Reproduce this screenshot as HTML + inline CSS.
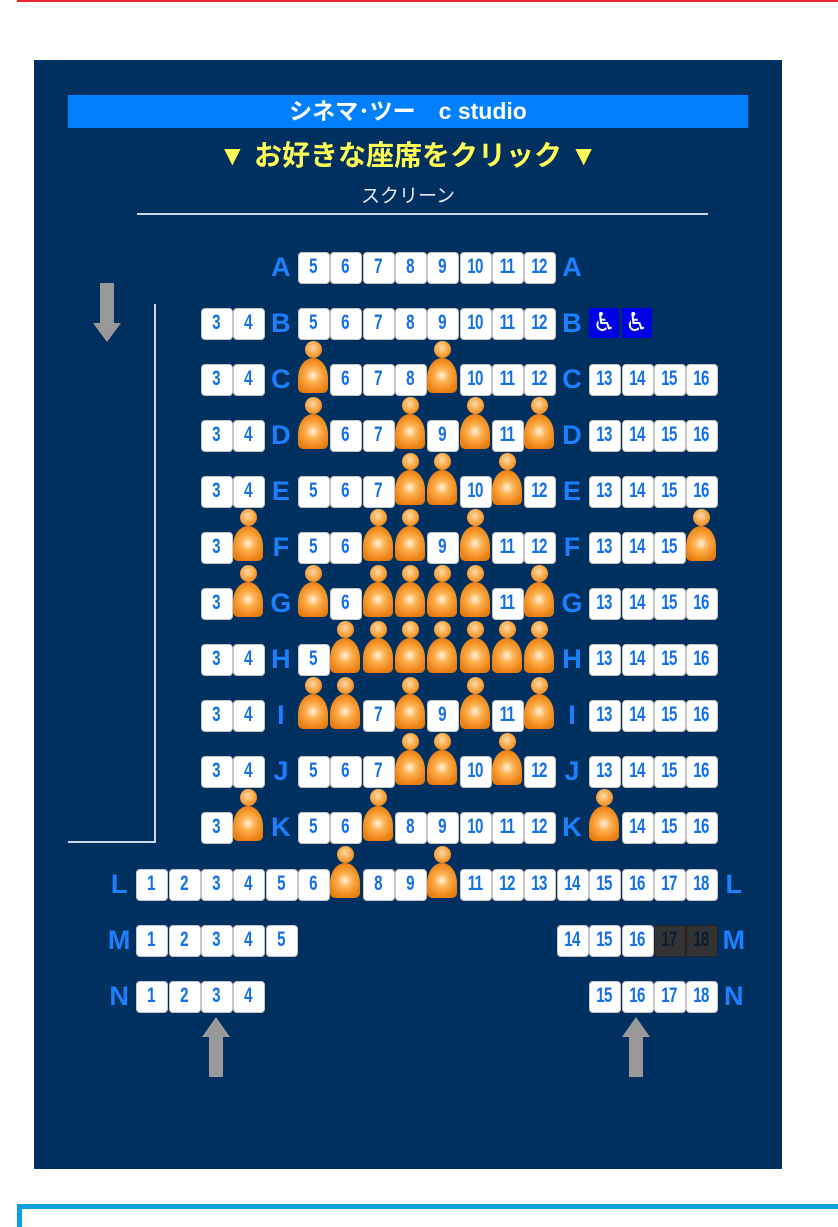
<!DOCTYPE html>
<html style="width:838px;height:1227px;overflow:hidden"><head><meta charset="utf-8"><style>
*{margin:0;padding:0;box-sizing:border-box}
body{width:838px;height:1227px;background:#fff;position:relative;overflow:hidden;font-family:"Liberation Sans","Noto Sans CJK JP",sans-serif}
.red{position:absolute;left:17px;top:0;width:821px;height:2px;background:#e8262b}
.panel{position:absolute;left:34px;top:60px;width:748px;height:1109px;background:#003060}
.cyan{position:absolute;left:17px;top:1204px;width:840px;height:40px;border:5px solid #0aa0e0}
.bar{position:absolute;left:68px;top:95px;width:680px;height:33px;background:#0080ff;color:#fff;font-weight:bold;font-size:23px;text-align:center;line-height:33px}
.yel{position:absolute;left:68px;top:137px;width:680px;text-align:center;color:#ffff55;font-size:28px;line-height:38px;font-weight:bold}
.scr{position:absolute;left:68px;top:184px;width:680px;text-align:center;color:#e6e8f0;font-size:19px;line-height:26px}
.sline{position:absolute;left:137px;top:213px;width:571px;height:2px;background:#cfd8ea}
.row{position:absolute;left:103px;display:flex;height:30px}
.row>*{width:32.35px;height:30px;flex:none;position:relative;display:block;text-decoration:none;font-style:normal}
.row b::before{content:"";position:absolute;left:1px;top:0;width:30px;height:30px;background:#fff;border-radius:4px;border:1px solid #c8c8c8}
.row b span,.row q span{position:absolute;left:1px;top:0;width:30px;line-height:30px;text-align:center;color:#1370e8;font-weight:bold;font-size:21px;letter-spacing:-1px;transform:scaleX(.72)}
.row q::before{content:"";position:absolute;left:1px;top:0;width:30px;height:30px;background:#333;border-radius:3px;border:1px solid #222}
.row q span{color:#0c1c30}
.row u{color:#1a80ff;font-weight:bold;font-size:27px;line-height:30px;text-align:center}
.row em::before{content:"♿";position:absolute;left:1px;top:0;width:30px;height:30px;background:#0000e6;color:#fff;font-size:26px;line-height:30px;text-align:center;font-family:"DejaVu Sans",sans-serif}
.row s::before{content:"";position:absolute;left:8px;top:-23px;width:17px;height:17px;border-radius:50%;background:radial-gradient(circle at 45% 40%,#ffd9a8,#f79a30 60%,#e07a10);z-index:1}
.row s::after{content:"";position:absolute;left:1px;top:-6px;width:30px;height:35px;border-radius:15px 15px 5px 5px/20px 20px 5px 5px;background:radial-gradient(circle at 50% 50%,#fff3e0 0,#ffb050 30%,#f08a1c 65%,#d86e08)}
.vl{position:absolute;left:154px;top:304px;width:2px;height:538px;background:#cfd8ea}
.hl{position:absolute;left:68px;top:841px;width:88px;height:2px;background:#cfd8ea}
.arr{position:absolute;width:28px;height:60px}
</style></head><body>
<div class="red"></div>
<div class="panel"></div>
<div class="cyan"></div>
<div class="bar">シネマ･ツー　c studio</div>
<div class="yel">▼ お好きな座席をクリック ▼</div>
<div class="scr">スクリーン</div>
<div class="sline"></div>
<div class="vl"></div><div class="hl"></div>
<svg class="arr" style="left:93px;top:283px" viewBox="0 0 28 60"><path d="M7 0H21V40H28L14 59L0 40H7Z" fill="#999"/></svg>
<svg class="arr" style="left:202px;top:1017px" viewBox="0 0 28 60"><path d="M7 60H21V20H28L14 0L0 20H7Z" fill="#999"/></svg>
<svg class="arr" style="left:622px;top:1017px" viewBox="0 0 28 60"><path d="M7 60H21V20H28L14 0L0 20H7Z" fill="#999"/></svg>

<div class="row" style="top:252px"><i></i><i></i><i></i><i></i><i></i><u>A</u><b><span>5</span></b><b><span>6</span></b><b><span>7</span></b><b><span>8</span></b><b><span>9</span></b><b><span>10</span></b><b><span>11</span></b><b><span>12</span></b><u>A</u></div>
<div class="row" style="top:308px"><i></i><i></i><i></i><b><span>3</span></b><b><span>4</span></b><u>B</u><b><span>5</span></b><b><span>6</span></b><b><span>7</span></b><b><span>8</span></b><b><span>9</span></b><b><span>10</span></b><b><span>11</span></b><b><span>12</span></b><u>B</u><em></em><em></em></div>
<div class="row" style="top:364px"><i></i><i></i><i></i><b><span>3</span></b><b><span>4</span></b><u>C</u><s></s><b><span>6</span></b><b><span>7</span></b><b><span>8</span></b><s></s><b><span>10</span></b><b><span>11</span></b><b><span>12</span></b><u>C</u><b><span>13</span></b><b><span>14</span></b><b><span>15</span></b><b><span>16</span></b></div>
<div class="row" style="top:420px"><i></i><i></i><i></i><b><span>3</span></b><b><span>4</span></b><u>D</u><s></s><b><span>6</span></b><b><span>7</span></b><s></s><b><span>9</span></b><s></s><b><span>11</span></b><s></s><u>D</u><b><span>13</span></b><b><span>14</span></b><b><span>15</span></b><b><span>16</span></b></div>
<div class="row" style="top:476px"><i></i><i></i><i></i><b><span>3</span></b><b><span>4</span></b><u>E</u><b><span>5</span></b><b><span>6</span></b><b><span>7</span></b><s></s><s></s><b><span>10</span></b><s></s><b><span>12</span></b><u>E</u><b><span>13</span></b><b><span>14</span></b><b><span>15</span></b><b><span>16</span></b></div>
<div class="row" style="top:532px"><i></i><i></i><i></i><b><span>3</span></b><s></s><u>F</u><b><span>5</span></b><b><span>6</span></b><s></s><s></s><b><span>9</span></b><s></s><b><span>11</span></b><b><span>12</span></b><u>F</u><b><span>13</span></b><b><span>14</span></b><b><span>15</span></b><s></s></div>
<div class="row" style="top:588px"><i></i><i></i><i></i><b><span>3</span></b><s></s><u>G</u><s></s><b><span>6</span></b><s></s><s></s><s></s><s></s><b><span>11</span></b><s></s><u>G</u><b><span>13</span></b><b><span>14</span></b><b><span>15</span></b><b><span>16</span></b></div>
<div class="row" style="top:644px"><i></i><i></i><i></i><b><span>3</span></b><b><span>4</span></b><u>H</u><b><span>5</span></b><s></s><s></s><s></s><s></s><s></s><s></s><s></s><u>H</u><b><span>13</span></b><b><span>14</span></b><b><span>15</span></b><b><span>16</span></b></div>
<div class="row" style="top:700px"><i></i><i></i><i></i><b><span>3</span></b><b><span>4</span></b><u>I</u><s></s><s></s><b><span>7</span></b><s></s><b><span>9</span></b><s></s><b><span>11</span></b><s></s><u>I</u><b><span>13</span></b><b><span>14</span></b><b><span>15</span></b><b><span>16</span></b></div>
<div class="row" style="top:756px"><i></i><i></i><i></i><b><span>3</span></b><b><span>4</span></b><u>J</u><b><span>5</span></b><b><span>6</span></b><b><span>7</span></b><s></s><s></s><b><span>10</span></b><s></s><b><span>12</span></b><u>J</u><b><span>13</span></b><b><span>14</span></b><b><span>15</span></b><b><span>16</span></b></div>
<div class="row" style="top:812px"><i></i><i></i><i></i><b><span>3</span></b><s></s><u>K</u><b><span>5</span></b><b><span>6</span></b><s></s><b><span>8</span></b><b><span>9</span></b><b><span>10</span></b><b><span>11</span></b><b><span>12</span></b><u>K</u><s></s><b><span>14</span></b><b><span>15</span></b><b><span>16</span></b></div>
<div class="row" style="top:869px"><u>L</u><b><span>1</span></b><b><span>2</span></b><b><span>3</span></b><b><span>4</span></b><b><span>5</span></b><b><span>6</span></b><s></s><b><span>8</span></b><b><span>9</span></b><s></s><b><span>11</span></b><b><span>12</span></b><b><span>13</span></b><b><span>14</span></b><b><span>15</span></b><b><span>16</span></b><b><span>17</span></b><b><span>18</span></b><u>L</u></div>
<div class="row" style="top:925px"><u>M</u><b><span>1</span></b><b><span>2</span></b><b><span>3</span></b><b><span>4</span></b><b><span>5</span></b><i></i><i></i><i></i><i></i><i></i><i></i><i></i><i></i><b><span>14</span></b><b><span>15</span></b><b><span>16</span></b><q><span>17</span></q><q><span>18</span></q><u>M</u></div>
<div class="row" style="top:981px"><u>N</u><b><span>1</span></b><b><span>2</span></b><b><span>3</span></b><b><span>4</span></b><i></i><i></i><i></i><i></i><i></i><i></i><i></i><i></i><i></i><i></i><b><span>15</span></b><b><span>16</span></b><b><span>17</span></b><b><span>18</span></b><u>N</u></div>
</body></html>
